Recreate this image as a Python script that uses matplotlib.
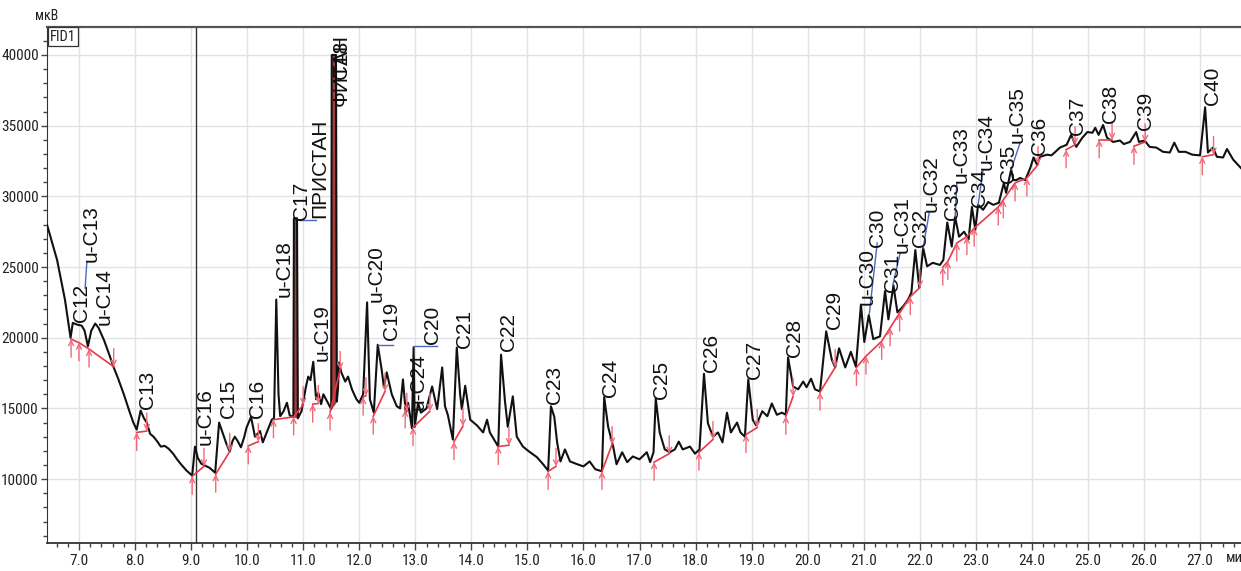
import matplotlib
matplotlib.use("Agg")
import matplotlib.pyplot as plt
from matplotlib.ticker import MultipleLocator, FormatStrFormatter
from matplotlib import font_manager
import numpy as np

# ---------------- data ----------------
time_min = [6.43, 6.61, 6.75, 6.85, 6.89, 6.95, 7.05, 7.10, 7.16, 7.22, 7.29, 7.35, 7.45, 7.55, 7.62,
            7.70, 7.80, 7.90, 7.97, 8.03, 8.10, 8.16, 8.21, 8.27, 8.33, 8.39, 8.46, 8.53, 8.60, 8.68,
            8.75, 8.82, 8.92, 9.02, 9.07, 9.12, 9.18, 9.25, 9.33, 9.43, 9.50, 9.56, 9.63, 9.69, 9.74,
            9.78, 9.83, 9.89, 9.95, 9.99, 10.07, 10.14, 10.23, 10.28, 10.37, 10.44, 10.48, 10.52, 10.56,
            10.59, 10.65, 10.71, 10.76, 10.825, 10.835, 10.89, 10.905, 10.97, 11.05, 11.09, 11.13, 11.18, 11.23,
            11.27, 11.32, 11.36, 11.44, 11.50, 11.51, 11.585, 11.60, 11.62, 11.64, 11.68, 11.75, 11.80, 11.87,
            11.95, 12.00, 12.07, 12.14, 12.19, 12.26, 12.33, 12.40, 12.44, 12.49, 12.58, 12.67, 12.73,
            12.78, 12.83, 12.87, 12.94, 12.97, 12.99, 13.05, 13.10, 13.20, 13.30, 13.39, 13.48, 13.53,
            13.58, 13.67, 13.74, 13.80, 13.83, 13.89, 13.98, 14.04, 14.10, 14.21, 14.28, 14.33, 14.48,
            14.53, 14.60, 14.65, 14.74, 14.81, 14.92, 15.03, 15.17, 15.28, 15.37, 15.42, 15.48, 15.53,
            15.59, 15.67, 15.76, 15.89, 16.00, 16.11, 16.21, 16.33, 16.37, 16.44, 16.53, 16.59, 16.69,
            16.78, 16.88, 17.00, 17.13, 17.19, 17.25, 17.29, 17.36, 17.45, 17.54, 17.63, 17.70, 17.77,
            17.90, 17.99, 18.07, 18.15, 18.22, 18.31, 18.40, 18.48, 18.56, 18.63, 18.74, 18.80, 18.88,
            18.94, 19.02, 19.08, 19.19, 19.28, 19.36, 19.45, 19.54, 19.61, 19.65, 19.74, 19.83, 19.92,
            19.98, 20.06, 20.13, 20.22, 20.33, 20.43, 20.49, 20.56, 20.67, 20.77, 20.86, 20.95, 21.01,
            21.09, 21.17, 21.29, 21.38, 21.44, 21.53, 21.60, 21.70, 21.79, 21.85, 21.92, 21.99, 22.06,
            22.13, 22.23, 22.36, 22.42, 22.49, 22.57, 22.63, 22.70, 22.79, 22.87, 22.93, 22.99, 23.04,
            23.13, 23.22, 23.31, 23.41, 23.50, 23.54, 23.63, 23.67, 23.72, 23.79, 23.88, 23.97, 24.03,
            24.09, 24.15, 24.27, 24.35, 24.50, 24.62, 24.70, 24.79, 24.90, 24.99, 25.08, 25.13, 25.19,
            25.27, 25.34, 25.45, 25.57, 25.64, 25.75, 25.86, 25.91, 26.01, 26.10, 26.22, 26.34, 26.46,
            26.54, 26.62, 26.74, 26.86, 27.00, 27.09, 27.14, 27.23, 27.30, 27.41, 27.48, 27.59, 27.73]

signal_uv = [28000, 25500, 22700, 20000, 21050, 20950, 20850, 20500, 19400, 20500, 21000, 20700, 19800, 18700, 17900,
             17100, 16000, 14800, 14000, 13500, 14850, 14300, 14000, 13200, 13000, 12700, 12300, 12350, 12150, 11800,
             11400, 11050, 10600, 10250, 12300, 11500, 11100, 10950, 10800, 10450, 14000, 13300, 12500, 11950, 12700,
             13000, 12700, 12250, 13000, 13650, 14400, 13000, 13400, 12600, 13500, 14200, 14300, 22700, 16000,
             14450, 14800, 15400, 14500, 14400, 28450, 28450, 14300, 14800, 16550, 17250, 17000, 18300, 15650,
             16100, 15300, 16000, 15400, 14950, 40000, 40000, 15500, 16350, 18250, 17550, 16900, 17250, 16350,
             15650, 15400, 16000, 22500, 15650, 14700, 19500, 17750, 16500, 17550, 16000, 15150, 15000,
             17050, 14700, 15400, 13600, 19300, 13700, 15400, 14700, 15000, 16550, 14950, 17900, 15150,
             14550, 12800, 19300, 16000, 14950, 16600, 14200, 14000, 13800, 13300, 14200, 13300, 12300,
             18800, 15500, 13700, 15850, 13000, 12300, 11950, 11550, 11050, 10600, 15150, 14400, 12600,
             11250, 12100, 11250, 11050, 10900, 11250, 10700, 10550, 15800, 13700, 12300, 11050, 11900,
             11200, 11600, 11400, 11900, 11200, 11900, 15700, 13300, 12100, 11900, 12100, 12650, 12100,
             12300, 11800, 12100, 17450, 13950, 13000, 13300, 12600, 14700, 13300, 14000, 13300, 13000,
             17050, 14200, 13800, 14800, 14450, 15350, 14550, 14700, 14550, 18600, 16550, 16350, 16900,
             16500, 17100, 16350, 16200, 20450, 18450, 17900, 19250, 17900, 19000, 17950, 22350, 19700,
             21600, 19900, 20100, 23300, 21300, 23700, 21800, 22200, 22700, 23200, 26200, 23550, 26350,
             25050, 25300, 25150, 25500, 28150, 26450, 28550, 27150, 27500, 26950, 29250, 27650, 29400,
             29050, 29600, 29400, 29550, 30950, 30250, 31900, 31150, 31150, 31300, 31150, 32000, 32750,
             32250, 32800, 32950, 32900, 33450, 33650, 34350, 33500, 34150, 34550, 34500, 34850, 34350,
             35050, 34150, 33850, 33950, 33700, 33850, 34550, 33850, 33950, 33500, 33450, 33150, 33100,
             33800, 33150, 33150, 32950, 32900, 36300, 33100, 33450, 32800, 32750, 33350, 32600, 32000]

# shaded (integrated) large peaks: start and end times
shaded_peaks_t = [[10.825, 10.905], [11.50, 11.60]]

# peak labels: name, retention time, label base level
peak_names = ["C12", "u-C13", "u-C14", "C13", "u-C16", "C15", "C16", "u-C18", "C17", "ПРИСТАН",
              "ФИТАН", "C18", "u-C19", "u-C20", "C19", "u-C24", "C20", "C21", "C22", "C23", "C24",
              "C25", "C26", "C27", "C28", "C29", "u-C30", "C30", "C31", "u-C31", "C32", "u-C32",
              "C33", "u-C33", "C34", "u-C34", "C35", "u-C35", "C36", "C37", "C38", "C39", "C40"]
peak_label_t = [7.04, 7.21, 7.45, 8.23, 9.25, 9.66, 10.19, 10.66, 10.97, 11.29,
                11.68, 11.68, 11.34, 12.30, 12.57, 13.05, 13.30, 13.87, 14.67, 15.49, 16.49,
                17.40, 18.29, 19.06, 19.77, 20.47, 21.06, 21.25, 21.52, 21.68, 22.02, 22.20,
                22.58, 22.74, 23.06, 23.18, 23.59, 23.73, 24.13, 24.82, 25.41, 26.02, 27.23]
peak_label_y = [21100, 25350, 20900, 14950, 12400, 14300, 14350, 22850, 28350, 28500,
                36400, 38300, 18350, 22500, 19850, 14900, 19550, 19300, 19050, 15300, 15800,
                15650, 17600, 17050, 18650, 20600, 22350, 26400, 23200, 26000, 26400, 28900,
                28350, 30950, 29250, 31900, 30950, 33800, 32950, 34350, 35200, 34700, 36450]

# blue leader lines (t0, y0, t1, y1)
leaders = [(7.14, 25300, 7.11, 23500), (10.93, 28350, 11.22, 28350), (12.33, 19500, 12.60, 19500),
           (12.96, 19400, 13.38, 19400), (21.24, 26700, 21.10, 21700), (21.65, 26000, 21.52, 23750),
           (22.17, 28900, 22.06, 26350), (22.66, 30950, 22.63, 28550), (23.13, 31900, 23.04, 29400),
           (23.79, 33800, 23.63, 31900)]

# integration baselines (red): lists of (t, y)
baselines = [
    [(6.86, 19900), (7.00, 19650), (7.18, 19200), (7.62, 17950)],
    [(8.03, 13300), (8.21, 13400)],
    [(9.02, 10200), (9.23, 10900)],
    [(9.44, 10350), (9.69, 11950)],
    [(10.02, 12350), (10.20, 12650)],
    [(10.47, 14200), (10.83, 14400), (11.00, 15250)],
    [(11.17, 15300), (11.27, 15350)],
    [(11.48, 14750), (11.66, 17750)],
    [(12.07, 15800), (12.12, 15900)],
    [(12.25, 14450), (12.46, 16200)],
    [(12.82, 14900), (12.85, 14800)],
    [(12.96, 13650), (13.26, 14800)],
    [(13.69, 12650), (13.85, 13750)],
    [(14.48, 12300), (14.67, 12400)],
    [(15.37, 10550), (15.51, 10900)],
    [(16.33, 10550), (16.51, 12450)],
    [(17.26, 11200), (17.53, 11800)],
    [(18.06, 11900), (18.31, 12800)],
    [(18.90, 13150), (19.10, 13650)],
    [(19.61, 14450), (19.74, 15850)],
    [(20.22, 16150), (20.49, 17900)],
    [(20.87, 17900), (21.04, 18700), (21.32, 19750), (21.47, 20700), (21.64, 21750), (21.83, 22900), (22.00, 23550)],
    [(22.41, 25000), (22.50, 25400), (22.66, 26700), (22.84, 27150), (22.97, 27750), (23.40, 29250),
     (23.49, 29750), (23.70, 30950), (23.91, 31300), (24.11, 32250)],
    [(24.61, 33300), (24.77, 33650)],
    [(25.20, 34000), (25.43, 34000)],
    [(25.82, 33550), (26.02, 33850)],
    [(27.04, 32800), (27.24, 32950)],
]

x_ticks = [7, 8, 9, 10, 11, 12, 13, 14, 15, 16, 17, 18, 19, 20, 21, 22, 23, 24, 25, 26, 27]
y_ticks = [10000, 15000, 20000, 25000, 30000, 35000, 40000]
marker_time = 9.09

# ---------------- fonts ----------------
names = {f.name for f in font_manager.fontManager.ttflist}
narrow_family = None
for cand in ["Liberation Sans Narrow", "Arial Narrow", "Roboto Condensed", "DejaVu Sans Condensed",
             "Open Sans Condensed", "Noto Sans Condensed"]:
    if cand in names:
        narrow_family = cand
        break
dejavu_cond = any(f.name == "DejaVu Sans" and str(f.stretch) in ("condensed", "semi-condensed")
                  for f in font_manager.fontManager.ttflist)
if narrow_family is not None:
    tick_props = dict(family=[narrow_family, "DejaVu Sans"], size=11)
elif dejavu_cond:
    tick_props = dict(family=["DejaVu Sans"], size=9.5, stretch="condensed")
else:
    tick_props = dict(family=["Liberation Sans", "DejaVu Sans"], size=9.5)

# ---------------- plot ----------------
W, H = 1241, 571
fig = plt.figure(figsize=(W / 100, H / 100), dpi=100)
ax = fig.add_axes([47 / W, 28 / H, 1 - 47 / W, (543 - 27) / H])

ax.set_xlim(6.43, 27.73)
ax.set_ylim(5480, 41980)

ax.set_xticks(x_ticks)
ax.set_yticks(y_ticks)
ax.xaxis.set_minor_locator(MultipleLocator(0.2))
ax.yaxis.set_minor_locator(MultipleLocator(1000))
ax.xaxis.set_major_formatter(FormatStrFormatter("%.1f"))
ax.grid(True, which="major", color="#e2e2e2", linewidth=1.0)
ax.set_axisbelow(True)

for lbl in ax.get_xticklabels() + ax.get_yticklabels():
    lbl.set_fontfamily(tick_props["family"])
    lbl.set_fontsize(tick_props["size"])
    if "stretch" in tick_props:
        lbl.set_fontstretch(tick_props["stretch"])
    lbl.set_color("#222222")
ax.tick_params(axis="x", which="major", direction="out", length=5, width=1, color="#444444", pad=3)
ax.tick_params(axis="y", which="major", direction="out", length=4, width=1, color="#444444", pad=2)
ax.tick_params(axis="both", which="minor", direction="out", length=3, width=1, color="#444444")

ax.spines["right"].set_visible(False)
ax.spines["top"].set_color("#555555")
ax.spines["top"].set_linewidth(1.6)
ax.spines["left"].set_color("#333333")
ax.spines["bottom"].set_color("#333333")
ax.spines["bottom"].set_linewidth(1.3)

ax.axvline(marker_time, color="#333333", linewidth=1.0, zorder=2)

t_arr = np.array(time_min)
s_arr = np.array(signal_uv)

# shaded integrated peaks
for t0, t1 in shaded_peaks_t:
    m = (t_arr >= t0 - 1e-9) & (t_arr <= t1 + 1e-9)
    tt = t_arr[m]
    yy = s_arr[m]
    base = np.interp(tt, [tt[0], tt[-1]], [yy[0], yy[-1]])
    ax.fill_between(tt, yy, base, color="#a83c3c", zorder=3, linewidth=0)

ax.plot(time_min, signal_uv, color="#111111", linewidth=1.5, zorder=4)

# baselines and markers
red = "#e8384a"
arrow_col = "#f06a78"
for seg in baselines:
    xs = [p[0] for p in seg]
    ys = [p[1] for p in seg]
    ax.plot(xs, ys, color=red, linewidth=1.2, zorder=5)
    for i, (xx, yy) in enumerate(seg):
        off = 13 if (i == len(seg) - 1 and len(seg) > 1) else -13
        ax.annotate("", xy=(xx, yy), xytext=(0, off), textcoords="offset points",
                    arrowprops=dict(arrowstyle="->", color=arrow_col, lw=1.0,
                                    shrinkA=0, shrinkB=0, mutation_scale=9), zorder=6)

for t0, y0, t1, y1 in leaders:
    ax.plot([t0, t1], [y0, y1], color="#4a68c0", linewidth=1.0, zorder=5)

label_font = ["Liberation Sans", "DejaVu Sans"]
for name, t, y in zip(peak_names, peak_label_t, peak_label_y):
    ax.text(t, y, name, rotation=90, ha="center", va="bottom", fontsize=15,
            family=label_font, color="#111111", zorder=7, clip_on=False)

# corner annotations
small = dict(family=tick_props["family"], fontsize=10, color="#222222")
if "stretch" in tick_props:
    small["fontstretch"] = tick_props["stretch"]
fig.text(35 / W, 1 - 16 / H, "мкВ", ha="left", va="center", **small)
ax.text(0.0025, 0.995, "FID1", transform=ax.transAxes, ha="left", va="top", zorder=8,
        bbox=dict(boxstyle="square,pad=0.15", facecolor="white", edgecolor="#333333", linewidth=0.9),
        **dict(small, fontsize=10.5))
fig.text(1226 / W, 1 - 558 / H, "ми", ha="left", va="center", **dict(small, fontsize=10.5))

fig.savefig("out.png", dpi=100)
